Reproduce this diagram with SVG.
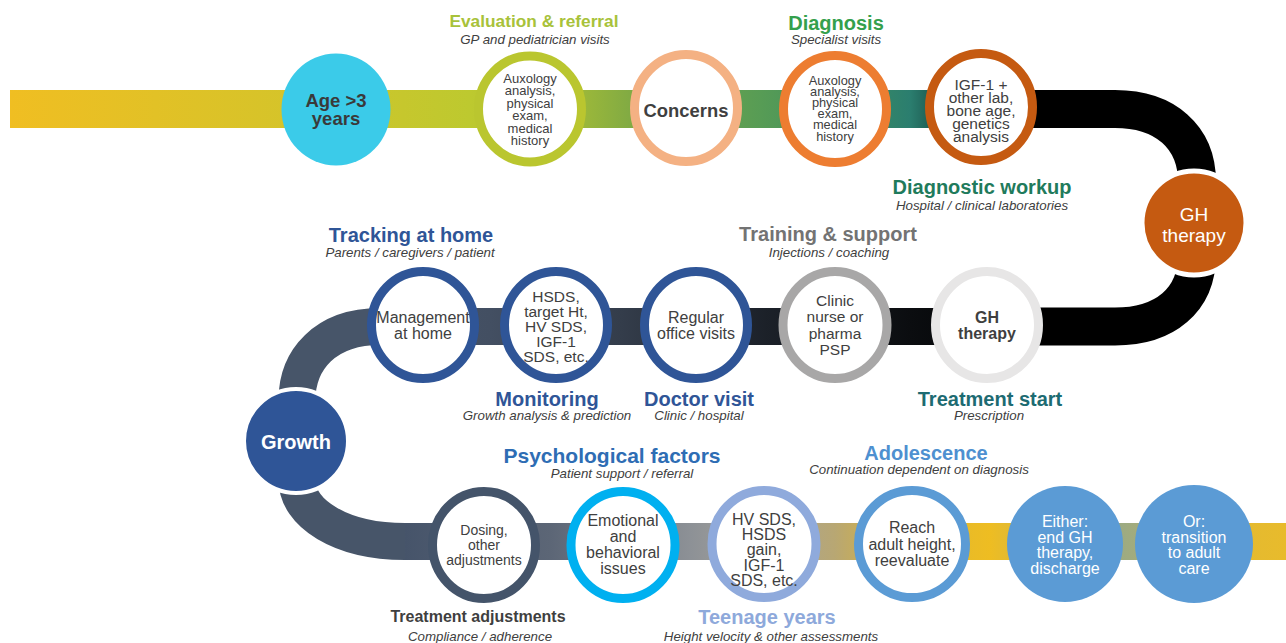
<svg xmlns="http://www.w3.org/2000/svg" width="1286" height="643" viewBox="0 0 1286 643">
<defs>
<linearGradient id="gTop" gradientUnits="userSpaceOnUse" x1="10" y1="0" x2="1000" y2="0">
<stop offset="0" stop-color="#F0BE22"/>
<stop offset="0.293" stop-color="#D4C42A"/>
<stop offset="0.465" stop-color="#BDC92F"/>
<stop offset="0.556" stop-color="#A8BE35"/>
<stop offset="0.636" stop-color="#7CA845"/>
<stop offset="0.758" stop-color="#579C55"/>
<stop offset="0.859" stop-color="#3A8A63"/>
<stop offset="0.909" stop-color="#2B7E6F"/>
<stop offset="0.94" stop-color="#1A5048"/>
<stop offset="0.985" stop-color="#000000"/>
</linearGradient>
<linearGradient id="gMid" gradientUnits="userSpaceOnUse" x1="380" y1="0" x2="1040" y2="0">
<stop offset="0" stop-color="#475569"/>
<stop offset="0.167" stop-color="#434F62"/>
<stop offset="0.364" stop-color="#343D4B"/>
<stop offset="0.583" stop-color="#1C2129"/>
<stop offset="0.803" stop-color="#0B0D10"/>
<stop offset="1" stop-color="#000000"/>
</linearGradient>
<linearGradient id="gBot" gradientUnits="userSpaceOnUse" x1="405" y1="0" x2="1286" y2="0">
<stop offset="0" stop-color="#46546A"/>
<stop offset="0.165" stop-color="#5C6676"/>
<stop offset="0.324" stop-color="#8D9196"/>
<stop offset="0.403" stop-color="#A6A49C"/>
<stop offset="0.488" stop-color="#B8A773"/>
<stop offset="0.562" stop-color="#DDB634"/>
<stop offset="0.664" stop-color="#EEBD22"/>
<stop offset="0.75" stop-color="#C4B35A"/>
<stop offset="0.801" stop-color="#98AA86"/>
<stop offset="0.84" stop-color="#A6AC7A"/>
<stop offset="0.948" stop-color="#E4BA30"/>
<stop offset="1" stop-color="#E8BB2C"/>
</linearGradient>
</defs>
<style>
.ring{fill:#FFFFFF;stroke-width:9}
.h{font-family:"Liberation Sans",Arial,sans-serif;font-weight:bold;text-anchor:middle}
.s{font-family:"Liberation Sans",Arial,sans-serif;font-style:italic;font-size:13.3px;fill:#404040;text-anchor:middle}
.t{font-family:"Liberation Sans",Arial,sans-serif;fill:#404040;text-anchor:middle}
.w{font-family:"Liberation Sans",Arial,sans-serif;fill:#FFFFFF;text-anchor:middle}
</style>

<g id="connectors">
<rect x="10" y="90" width="1000" height="38" fill="url(#gTop)"/>
<path d="M 990 109 H 1115 C 1165 109 1197 137 1197 182 L 1197 255 C 1197 300 1165 326.5 1115 326.5 H 1000" fill="none" stroke="#000000" stroke-width="38"/>
<rect x="380" y="308" width="640" height="37" fill="url(#gMid)"/>
<path d="M 400 326.5 H 380 C 325 326.5 297 360 297 400 L 297 480 C 297 513 340 541.5 405 541.5 H 420" fill="none" stroke="#475569" stroke-width="37"/>
<rect x="405" y="523" width="881" height="37" fill="url(#gBot)"/>
</g>

<g id="node-age">
<ellipse cx="336" cy="109.5" rx="54.5" ry="56" fill="#3BCBE9"/>
<text class="h" x="336" y="106.5" font-size="18.5" fill="#3A3A3A">Age &gt;3</text>
<text class="h" x="336" y="125" font-size="18.5" fill="#3A3A3A">years</text>
</g>

<g id="node-eval">
<text class="h" x="534" y="27" font-size="17.3" fill="#A8C23A">Evaluation &amp; referral</text>
<text class="s" x="535" y="44">GP and pediatrician visits</text>
<ellipse class="ring" cx="530" cy="109" rx="51.5" ry="53" stroke="#BAC62F"/>
<text class="t" font-size="13"><tspan x="530" y="82.5">Auxology</tspan><tspan x="530" y="95">analysis,</tspan><tspan x="530" y="107.6">physical</tspan><tspan x="530" y="120.2">exam,</tspan><tspan x="530" y="132.8">medical</tspan><tspan x="530" y="145.4">history</tspan></text>
</g>

<g id="node-concerns">
<ellipse class="ring" cx="686" cy="108" rx="51.5" ry="53.5" stroke="#F4B183"/>
<text class="h" x="686" y="117" font-size="18.4" fill="#3F3F3F">Concerns</text>
</g>

<g id="node-diagnosis">
<text class="h" x="836" y="29.5" font-size="20" fill="#34A04C">Diagnosis</text>
<text class="s" x="836" y="44">Specialist visits</text>
<ellipse class="ring" cx="835" cy="109" rx="51.5" ry="53.5" stroke="#ED7D31"/>
<text class="t" font-size="12.8"><tspan x="835" y="84.5">Auxology</tspan><tspan x="835" y="95.7">analysis,</tspan><tspan x="835" y="106.9">physical</tspan><tspan x="835" y="118.1">exam,</tspan><tspan x="835" y="129.3">medical</tspan><tspan x="835" y="140.5">history</tspan></text>
</g>

<g id="node-workup">
<ellipse class="ring" cx="981" cy="107" rx="51.5" ry="53.5" stroke="#C55A11"/>
<text class="t" font-size="15.5"><tspan x="981" y="90">IGF-1 +</tspan><tspan x="981" y="103">other lab,</tspan><tspan x="981" y="116">bone age,</tspan><tspan x="981" y="129">genetics</tspan><tspan x="981" y="142">analysis</tspan></text>
<text class="h" x="982" y="194" font-size="20" fill="#1F7B5C">Diagnostic workup</text>
<text class="s" x="982" y="210">Hospital / clinical laboratories</text>
</g>

<g id="node-gh-therapy">
<circle cx="1194" cy="223" r="52" fill="#C55A11" stroke="#FFFFFF" stroke-width="5"/>
<text class="w" x="1194" y="220.5" font-size="19">GH</text>
<text class="w" x="1194" y="241.5" font-size="19">therapy</text>
</g>

<g id="node-treatment-start">
<ellipse class="ring" cx="987" cy="325" rx="51.5" ry="53.5" stroke="#E7E6E6"/>
<text class="h" x="987" y="323" font-size="16" fill="#3F3F3F">GH</text>
<text class="h" x="987" y="338.5" font-size="16" fill="#3F3F3F">therapy</text>
<text class="h" x="990" y="406" font-size="20" fill="#1D6B72">Treatment start</text>
<text class="s" x="989" y="420">Prescription</text>
</g>

<g id="node-training">
<text class="h" x="828" y="241" font-size="20" fill="#737373">Training &amp; support</text>
<text class="s" x="829" y="257">Injections / coaching</text>
<ellipse class="ring" cx="835" cy="325" rx="52" ry="53.5" stroke="#A8A7A7"/>
<text class="t" font-size="15.5"><tspan x="835" y="305.5">Clinic</tspan><tspan x="835" y="322">nurse or</tspan><tspan x="835" y="338.5">pharma</tspan><tspan x="835" y="355">PSP</tspan></text>
</g>

<g id="node-doctor">
<ellipse class="ring" cx="696" cy="325" rx="51.5" ry="53.5" stroke="#2F5597"/>
<text class="t" font-size="16"><tspan x="696" y="323">Regular</tspan><tspan x="696" y="338.5">office visits</tspan></text>
<text class="h" x="699" y="406" font-size="20" fill="#2F5597">Doctor visit</text>
<text class="s" x="699" y="420">Clinic / hospital</text>
</g>

<g id="node-monitoring">
<ellipse class="ring" cx="556" cy="325" rx="51.5" ry="53.5" stroke="#2F5597"/>
<text class="t" font-size="15.5"><tspan x="556" y="301.5">HSDS,</tspan><tspan x="556" y="316.5">target Ht,</tspan><tspan x="556" y="331.5">HV SDS,</tspan><tspan x="556" y="346.5">IGF-1</tspan><tspan x="556" y="361.5">SDS, etc.</tspan></text>
<text class="h" x="547" y="406" font-size="20" fill="#2F5597">Monitoring</text>
<text class="s" x="547" y="420">Growth analysis &amp; prediction</text>
</g>

<g id="node-tracking">
<text class="h" x="411" y="241.5" font-size="20" fill="#2F5597">Tracking at home</text>
<text class="s" x="410" y="257">Parents / caregivers / patient</text>
<ellipse class="ring" cx="423" cy="325" rx="51.5" ry="53.5" stroke="#2F5597"/>
<text class="t" font-size="16"><tspan x="423" y="323">Management</tspan><tspan x="423" y="338.5">at home</tspan></text>
</g>

<g id="node-growth">
<circle cx="296" cy="441" r="52" fill="#2F5597" stroke="#FFFFFF" stroke-width="4"/>
<text class="w" x="296" y="449" font-size="20" font-weight="bold">Growth</text>
</g>

<g id="node-adjustments">
<ellipse class="ring" cx="484" cy="545" rx="51.5" ry="53.5" stroke="#44546A"/>
<text class="t" font-size="14"><tspan x="484" y="535">Dosing,</tspan><tspan x="484" y="550">other</tspan><tspan x="484" y="564.5">adjustments</tspan></text>
<text class="h" x="478" y="622" font-size="16" fill="#3F3F3F">Treatment adjustments</text>
<text class="s" x="480" y="641">Compliance / adherence</text>
</g>

<g id="node-psych">
<text class="h" x="612" y="463" font-size="21" fill="#2E6DB4">Psychological factors</text>
<text class="s" x="622" y="478">Patient support / referral</text>
<ellipse class="ring" cx="623" cy="545" rx="52" ry="53.5" stroke="#00B0F0"/>
<text class="t" font-size="16"><tspan x="623" y="526">Emotional</tspan><tspan x="623" y="542">and</tspan><tspan x="623" y="558">behavioral</tspan><tspan x="623" y="574">issues</tspan></text>
</g>

<g id="node-teenage">
<ellipse class="ring" cx="764" cy="544" rx="52" ry="53.5" stroke="#8FAADC"/>
<text class="t" font-size="16"><tspan x="764" y="525">HV SDS,</tspan><tspan x="764" y="540.2">HSDS</tspan><tspan x="764" y="555.4">gain,</tspan><tspan x="764" y="570.6">IGF-1</tspan><tspan x="764" y="585.8">SDS, etc.</tspan></text>
<text class="h" x="767" y="624" font-size="20" fill="#8EA9DB">Teenage years</text>
<text class="s" x="771" y="641">Height velocity &amp; other assessments</text>
</g>

<g id="node-adolescence">
<text class="h" x="926" y="459.5" font-size="20" fill="#4E90D0">Adolescence</text>
<text class="s" x="919" y="474">Continuation dependent on diagnosis</text>
<ellipse class="ring" cx="912" cy="544" rx="53.5" ry="53.5" stroke="#5B9BD5"/>
<text class="t" font-size="16"><tspan x="912" y="533">Reach</tspan><tspan x="912" y="549.5">adult height,</tspan><tspan x="912" y="566">reevaluate</tspan></text>
</g>

<g id="node-either">
<circle cx="1065" cy="544" r="58" fill="#5B9BD5"/>
<text class="w" font-size="16"><tspan x="1065" y="527">Either:</tspan><tspan x="1065" y="542.5">end GH</tspan><tspan x="1065" y="558">therapy,</tspan><tspan x="1065" y="574">discharge</tspan></text>
</g>

<g id="node-or">
<circle cx="1194" cy="544" r="59" fill="#5B9BD5"/>
<text class="w" font-size="16"><tspan x="1194" y="527">Or:</tspan><tspan x="1194" y="542.5">transition</tspan><tspan x="1194" y="558">to adult</tspan><tspan x="1194" y="574">care</tspan></text>
</g>
</svg>
